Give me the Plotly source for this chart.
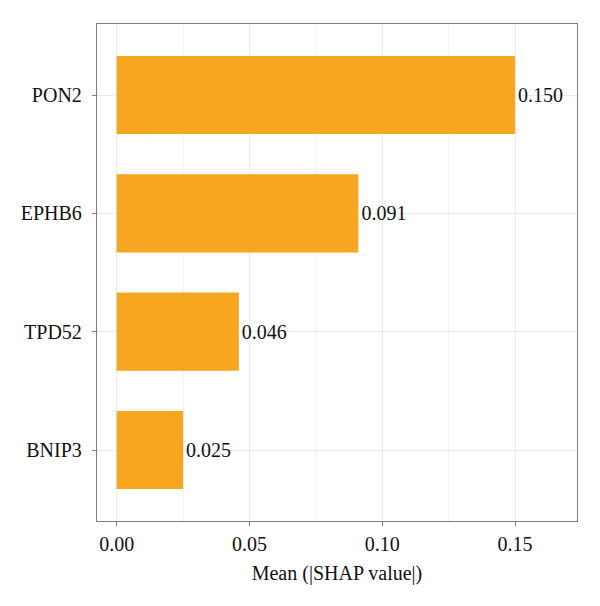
import plotly.graph_objects as go

genes = ["BNIP3", "TPD52", "EPHB6", "PON2"]
shap_values = [0.025, 0.046, 0.091, 0.150]
labels = ["0.025", "0.046", "0.091", "0.150"]
x_ticks = [0.0, 0.05, 0.10, 0.15]
x_tick_text = ["0.00", "0.05", "0.10", "0.15"]

FONT = "Liberation Serif"
FS = 20

fig = go.Figure()
fig.add_trace(go.Bar(
    x=shap_values, y=genes, orientation="h",
    marker=dict(color="#F6A61F", line=dict(width=0)),
    width=0.66,
    text=labels, textposition="outside",
    textfont=dict(family=FONT, size=FS, color="#111111"),
    cliponaxis=False,
))

fig.update_layout(
    width=600, height=606,
    margin=dict(l=97, r=23, t=24, b=85),
    plot_bgcolor="white", paper_bgcolor="white",
    font=dict(family=FONT, size=FS, color="#111111"),
    showlegend=False,
)
fig.update_xaxes(
    range=[-0.0074, 0.1733],
    tickvals=x_ticks, ticktext=x_tick_text,
    showgrid=True, gridcolor="#EBEBEB", gridwidth=1,
    minor=dict(dtick=0.025, tick0=0.025, showgrid=True, gridcolor="#F2F2F2", gridwidth=1),
    ticks="outside", ticklen=4, tickcolor="#7F7F7F",
    showline=True, linecolor="#7F7F7F", linewidth=1.3, mirror=True,
    zeroline=False,
    ticklabelstandoff=1,
    title=dict(text="Mean (|SHAP value|)", font=dict(family=FONT, size=FS), standoff=11),
    tickfont=dict(family=FONT, size=FS, color="#111111"),
)
fig.update_yaxes(
    range=[-0.6, 3.6],
    categoryorder="array", categoryarray=genes,
    showgrid=True, gridcolor="#EBEBEB", gridwidth=1,
    ticks="outside", ticklen=4, tickcolor="#7F7F7F",
    showline=True, linecolor="#7F7F7F", linewidth=1.3, mirror=True,
    zeroline=False,
    ticklabelstandoff=6,
    tickfont=dict(family=FONT, size=FS, color="#111111"),
)

fig.write_html("out.html")
